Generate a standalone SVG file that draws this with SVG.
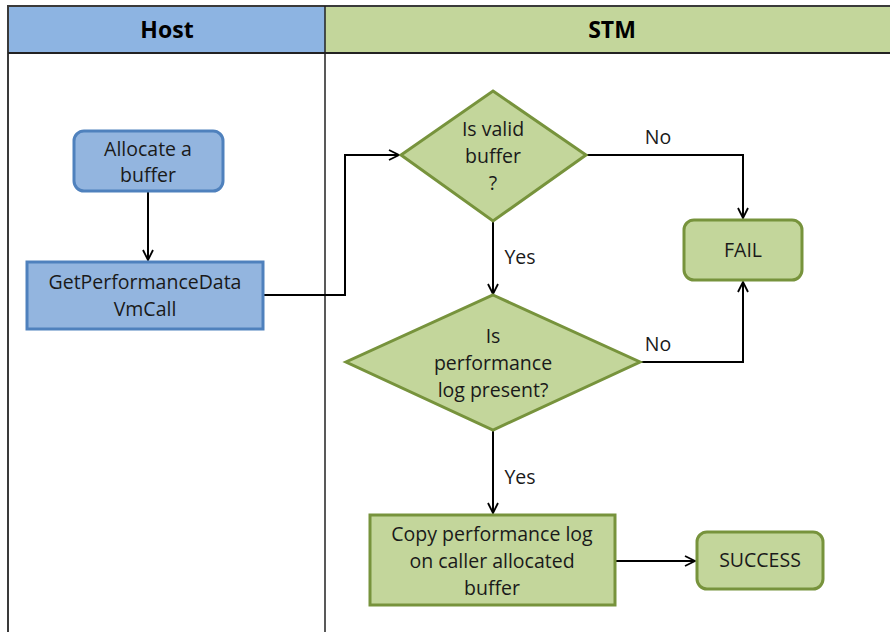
<svg xmlns="http://www.w3.org/2000/svg" width="890" height="632" viewBox="0 0 890 632">
<defs>
<marker id="arr" viewBox="0 0 12 12" refX="11" refY="6" markerWidth="12" markerHeight="12" markerUnits="userSpaceOnUse" orient="auto">
<path d="M1,1 L11,6 L1,11" fill="none" stroke="#000" stroke-width="1.8"/>
</marker>
<style>
.t{font-family:"Open Sans","Liberation Sans",sans-serif;font-size:19.5px;fill:#1a1a1a;text-anchor:middle}
.h{font-family:"Open Sans","Liberation Sans",sans-serif;font-size:23px;font-weight:bold;fill:#000;text-anchor:middle}
.blue{fill:#93B5DF;stroke:#4F81BD;stroke-width:3}
.green{fill:#C3D69B;stroke:#77933C;stroke-width:3}
.c{fill:none;stroke:#000;stroke-width:2}
</style>
</defs>
<rect x="0" y="0" width="890" height="632" fill="#fff"/>
<g id="lanes">
<rect x="8" y="6" width="317" height="47" fill="#8DB4E2"/>
<rect x="325" y="6" width="565" height="47" fill="#C3D69B"/>
<rect x="8" y="6" width="890" height="640" fill="none" stroke="#3a3a3a" stroke-width="2"/>
<line x1="8" y1="53" x2="890" y2="53" stroke="#222" stroke-width="2"/>
<line x1="325" y1="6" x2="325" y2="632" stroke="#222" stroke-width="1.5"/>
<text class="h" x="167" y="38">Host</text>
<text class="h" x="612" y="38">STM</text>
</g>
<g id="connectors">
<line class="c" x1="148" y1="192" x2="148" y2="260" marker-end="url(#arr)"/>
<polyline class="c" points="264,295 345,295 345,155 399,155" marker-end="url(#arr)"/>
<line class="c" x1="493" y1="221" x2="493" y2="294" marker-end="url(#arr)"/>
<polyline class="c" points="586,155 743,155 743,218" marker-end="url(#arr)"/>
<polyline class="c" points="640,362 743,362 743,282" marker-end="url(#arr)"/>
<line class="c" x1="493" y1="430" x2="493" y2="513" marker-end="url(#arr)"/>
<line class="c" x1="616" y1="561" x2="695" y2="561" marker-end="url(#arr)"/>
<text class="t" x="658" y="144">No</text>
<text class="t" x="520" y="264">Yes</text>
<text class="t" x="658" y="351">No</text>
<text class="t" x="520" y="484">Yes</text>
</g>
<g id="allocate">
<rect class="blue" x="74" y="131" width="149" height="60" rx="10"/>
<text class="t" x="148" y="156">Allocate a</text>
<text class="t" x="148" y="182">buffer</text>
</g>
<g id="getperf">
<rect class="blue" x="27" y="262" width="236" height="67"/>
<text class="t" x="145" y="289">GetPerformanceData</text>
<text class="t" x="145" y="316">VmCall</text>
</g>
<g id="valid">
<polygon class="green" points="493,91 586,155 493,221 401,155"/>
<text class="t" x="493" y="136">Is valid</text>
<text class="t" x="493" y="163">buffer</text>
<text class="t" x="493" y="190">?</text>
</g>
<g id="present">
<polygon class="green" points="493,295 640,362 493,430 346,362"/>
<text class="t" x="493" y="343">Is</text>
<text class="t" x="493" y="370">performance</text>
<text class="t" x="493" y="397">log present?</text>
</g>
<g id="fail">
<rect class="green" x="684" y="220" width="118" height="60" rx="10"/>
<text class="t" x="743" y="257">FAIL</text>
</g>
<g id="copy">
<rect class="green" x="370" y="515" width="245" height="90"/>
<text class="t" x="492" y="541">Copy performance log</text>
<text class="t" x="492" y="568">on caller allocated</text>
<text class="t" x="492" y="595">buffer</text>
</g>
<g id="success">
<rect class="green" x="697" y="532" width="126" height="57" rx="10"/>
<text class="t" x="760" y="567">SUCCESS</text>
</g>
</svg>
